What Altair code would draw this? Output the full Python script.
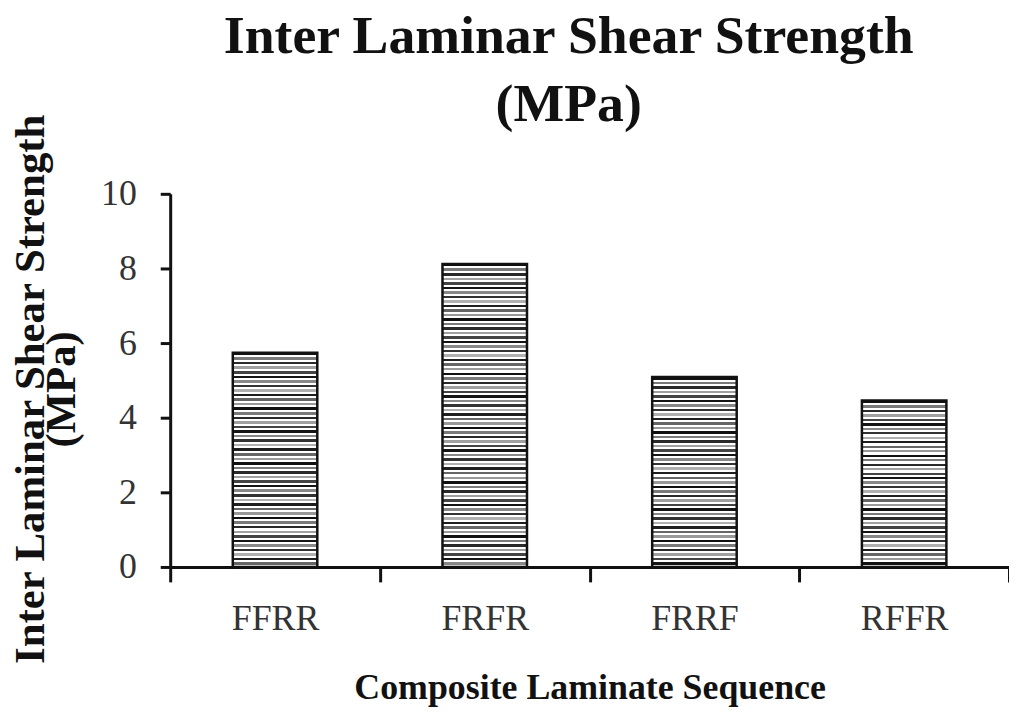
import altair as alt
import pandas as pd

sequences = ["FFRR", "FRFR", "FRRF", "RFFR"]
ilss = [5.74, 8.12, 5.09, 4.46]

y_ticks = [0, 2, 4, 6, 8, 10]

# stripe shades used by the horizontal hatch fill (cycled top to bottom)
stripe_shades = ["#111111", "#7a7a7a", "#2a2a2a", "#a0a0a0", "#444444", "#151515",
                 "#888888", "#333333", "#b0b0b0", "#1f1f1f", "#666666", "#999999"]
stripes_per_unit = 8.2

df = pd.DataFrame({"seq": sequences, "val": ilss})


def hatch(value):
    n = max(1, round(value * stripes_per_unit))
    stops = []
    for i in range(n):
        c = stripe_shades[i % len(stripe_shades)]
        a = i / n
        b = (i + 0.55) / n
        e = (i + 1) / n
        stops += [
            alt.GradientStop(offset=a, color=c),
            alt.GradientStop(offset=b, color=c),
            alt.GradientStop(offset=b, color="#ffffff"),
            alt.GradientStop(offset=e, color="#ffffff"),
        ]
    return alt.LinearGradient(gradient="linear", stops=stops, x1=0, x2=0, y1=0, y2=1)


x_enc = alt.X(
    "seq:N",
    sort=sequences,
    scale=alt.Scale(paddingInner=0, paddingOuter=0),
    axis=alt.Axis(
        title="Composite Laminate Sequence",
        labelAngle=0,
        tickBand="extent",
        tickSize=15,
        labelPadding=20,
        titlePadding=34,
    ),
)
y_enc = alt.Y(
    "val:Q",
    scale=alt.Scale(domain=[0, 10], nice=False),
    axis=alt.Axis(
        title=["Inter Laminar Shear Strength", "(MPa)"],
        values=y_ticks,
        grid=False,
        tickSize=10,
        labelPadding=24,
        titleX=-118,
        titleY=196,
        titleAngle=-90,
        titleAlign="center",
        titleBaseline="bottom",
        titleFontSize=43,
        titleLineHeight=31,
    ),
)

layers = []
for s, v in zip(sequences, ilss):
    layers.append(
        alt.Chart(df)
        .transform_filter(alt.datum.seq == s)
        .mark_bar(fill=hatch(v), stroke="#111111", strokeWidth=2.5,
                  width=alt.RelativeBandSize(0.403))
        .encode(x=x_enc, y=y_enc)
    )

chart = (
    alt.layer(*layers)
    .properties(
        width=843,
        height=375,
        autosize=alt.AutoSizeParams(type="none"),
        padding={"left": 163, "top": 185, "right": 0, "bottom": 140},
        title=alt.TitleParams(
            text=["Inter Laminar Shear Strength", "(MPa)"],
            font="Liberation Serif",
            fontSize=54,
            fontWeight="bold",
            color="#111111",
            lineHeight=68,
            anchor="middle",
            frame="group",
            baseline="alphabetic",
            offset=42,
            dx=-21,
            dy=104,
        ),
    )
    .configure_view(stroke=None)
    .configure_axis(
        domainColor="#111111",
        domainWidth=3,
        tickColor="#111111",
        tickWidth=3,
        labelFont="Liberation Serif",
        labelFontSize=36,
        labelColor="#333333",
        titleFont="Liberation Serif",
        titleFontWeight="bold",
        titleColor="#111111",
        titleFontSize=36,
    )
)

chart.save("out.html", embed_options={"renderer": "svg", "actions": False})
